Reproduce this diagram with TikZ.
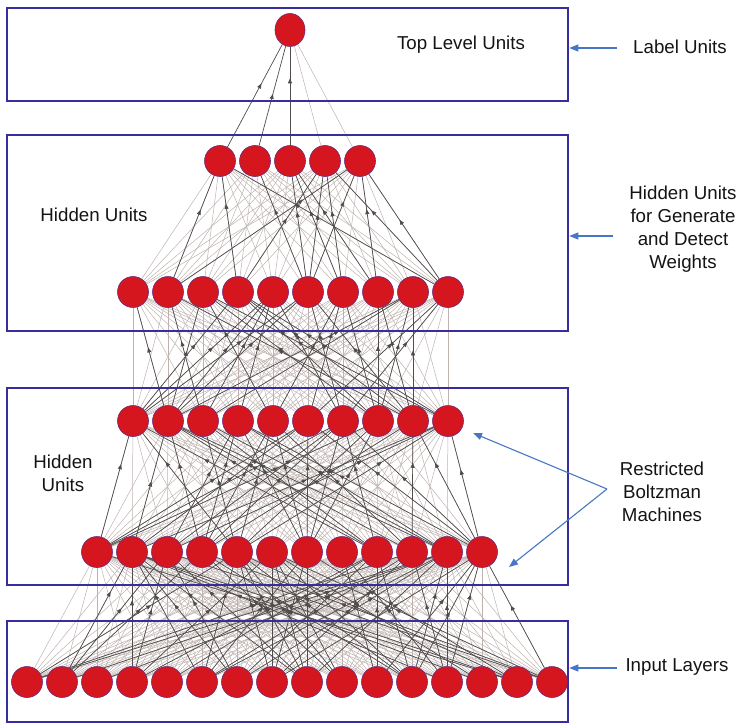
\documentclass[tikz,border=0pt]{standalone}
\usepackage{fontspec}
\setmainfont{Liberation Sans}
\usetikzlibrary{arrows.meta,decorations.markings,shapes.geometric}
\pgfdeclarelayer{edges}
\pgfdeclarelayer{boxes}
\pgfsetlayers{edges,boxes,main}
\definecolor{unitred}{RGB}{214,22,30}
\definecolor{unitrim}{RGB}{110,40,120}
\definecolor{boxblue}{RGB}{55,45,155}
\definecolor{notebl}{RGB}{72,118,198}
\definecolor{lightw}{RGB}{190,178,175}
\definecolor{darkw}{RGB}{80,76,76}
\begin{document}
\begin{tikzpicture}[x=1pt,y=-1pt,
  unit/.style={circle,minimum size=31pt,inner sep=0pt,fill=unitred,draw=unitrim,line width=0.6pt},
  topunit/.style={ellipse,minimum width=30pt,minimum height=33pt,inner sep=0pt,fill=unitred,draw=unitrim,line width=0.6pt},
  layerbox/.style={draw=boxblue,line width=2.6pt,inner sep=0pt},
  lbl/.style={font=\fontsize{18.7}{23}\selectfont,align=center,inner sep=0pt,text=black!92},
  note/.style={draw=notebl,line width=1.1pt,-{Triangle[length=9pt,width=7pt]}},
  lightedge/.style={draw=lightw,line width=0.5pt},
  darkedge/.style={draw=darkw,line width=0.7pt},
  tipat/.style={postaction={decorate},decoration={markings,mark=at position #1 with {\arrow{Triangle[length=5pt,width=4pt]}}}},
]
\useasboundingbox (0,0) rectangle (739,725);

% units
\node[topunit] (l1-1) at (290,30) {};
\foreach \i in {1,...,5}{\node[unit] (l2-\i) at ({220+35*(\i-1)},161) {};}
\foreach \i in {1,...,10}{\node[unit] (l3-\i) at ({133+35*(\i-1)},292) {};}
\foreach \i in {1,...,10}{\node[unit] (l4-\i) at ({133+35*(\i-1)},421) {};}
\foreach \i in {1,...,12}{\node[unit] (l5-\i) at ({97+35*(\i-1)},552) {};}
\foreach \i in {1,...,16}{\node[unit] (l6-\i) at ({27+35*(\i-1)},682) {};}

% boxes
\begin{pgfonlayer}{boxes}
\node[layerbox,minimum width=561pt,minimum height=93pt] (b1) at (287.5,54.5) {};
\node[layerbox,minimum width=561pt,minimum height=196pt] (b2) at (287.5,233) {};
\node[layerbox,minimum width=561pt,minimum height=197pt] (b3) at (287.5,486.5) {};
\node[layerbox,minimum width=561pt,minimum height=101pt] (b4) at (287.5,671.5) {};
\end{pgfonlayer}

% connections
\pgfmathsetseed{12345}
\begin{pgfonlayer}{edges}
\draw[darkedge,tipat=0.62] (l2-1) -- (l1-1);
\draw[darkedge,tipat=0.52] (l2-2) -- (l1-1);
\draw[darkedge,tipat=0.68] (l2-3) -- (l1-1);
\draw[lightedge] (l2-4) -- (l1-1);
\draw[lightedge] (l2-5) -- (l1-1);
\foreach \i in {1,...,10}{\foreach \j in {1,...,5}{
  \draw[lightedge] (l3-\i) -- (l2-\j);}}
\foreach \i in {1,...,10}{\foreach \j in {1,...,10}{
  \draw[lightedge] (l4-\i) -- (l3-\j);}}
\foreach \i in {1,...,12}{\foreach \j in {1,...,10}{
  \draw[lightedge] (l5-\i) -- (l4-\j);}}
\foreach \i in {1,...,16}{\foreach \j in {1,...,12}{
  \draw[lightedge] (l6-\i) -- (l5-\j);}}
% darker weights with arrowheads
\foreach \i in {1,...,10}{\foreach \j in {1,...,5}{
  \pgfmathtruncatemacro\dk{rnd<0.4}
  \pgfmathsetmacro\pp{0.55+0.2*rnd}
  \ifnum\dk=1 \draw[darkedge,tipat=\pp] (l3-\i) -- (l2-\j);\fi}}
\foreach \i in {1,...,10}{\foreach \j in {1,...,10}{
  \pgfmathtruncatemacro\dk{rnd<0.36}
  \pgfmathsetmacro\pp{0.55+0.2*rnd}
  \ifnum\dk=1 \draw[darkedge,tipat=\pp] (l4-\i) -- (l3-\j);\fi}}
\foreach \i in {1,...,12}{\foreach \j in {1,...,10}{
  \pgfmathtruncatemacro\dk{rnd<0.32}
  \pgfmathsetmacro\pp{0.55+0.2*rnd}
  \ifnum\dk=1 \draw[darkedge,tipat=\pp] (l5-\i) -- (l4-\j);\fi}}
\foreach \i in {1,...,16}{\foreach \j in {1,...,12}{
  \pgfmathtruncatemacro\dk{rnd<0.27}
  \pgfmathsetmacro\pp{0.55+0.2*rnd}
  \ifnum\dk=1 \draw[darkedge,tipat=\pp] (l6-\i) -- (l5-\j);\fi}}
\end{pgfonlayer}

% labels
\node[lbl] (t1) at (461,45) {Top Level Units};
\node[lbl] (t2) at (680,47) {Label Units};
\node[lbl] (t3) at (683,229) {Hidden Units\\for Generate\\and Detect\\Weights};
\node[lbl] (t4) at (94,215) {Hidden Units};
\node[lbl] (t5) at (63,473) {Hidden\\Units};
\node[lbl] (t6) at (662,492) {Restricted\\Boltzman\\Machines};
\node[lbl] (t7) at (677,667) {Input Layers};

% annotation arrows
\coordinate (a1) at (617,48);
\coordinate (a2) at (613,236);
\coordinate (a3) at (607,489);
\coordinate (r1) at (473,433);
\coordinate (r2) at (509,567);
\coordinate (a4) at (617,668);
\draw[note] (a1) -- (a1 -| b1.east);
\draw[note] (a2) -- (a2 -| b2.east);
\draw[note] (a3) -- (r1);
\draw[note] (a3) -- (r2);
\draw[note] (a4) -- (a4 -| b4.east);
\end{tikzpicture}
\end{document}
